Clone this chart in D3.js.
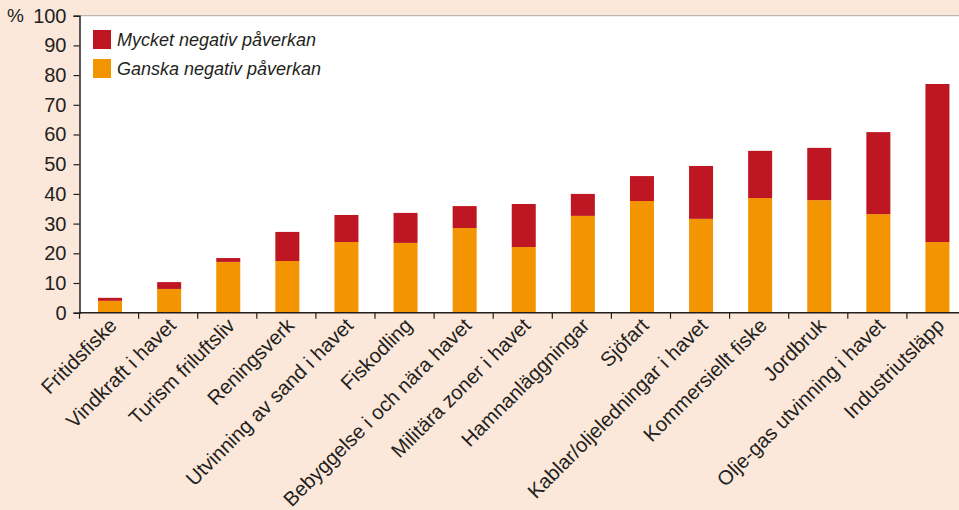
<!DOCTYPE html>
<html>
  <head>
    <style>
      body { margin: 0; background: #fce8da; }
      svg { display: block; font-family: "Liberation Sans", Arial, Helvetica, sans-serif; }
    </style>
  </head>

  <body>

    <svg class="surface" width="959" height="510"></svg>

    <script src="https://cdnjs.cloudflare.com/ajax/libs/d3/7.8.5/d3.min.js" charset="utf-8"></script>
    <script>

      const categories = ['Fritidsfiske', 'Vindkraft i havet', 'Turism friluftsliv', 'Reningsverk',
        'Utvinning av sand i havet', 'Fiskodling', 'Bebyggelse i och nära havet', 'Militära zoner i havet',
        'Hamnanläggningar', 'Sjöfart', 'Kablar/oljeledningar i havet', 'Kommersiellt fiske',
        'Jordbruk', 'Olje-gas utvinning i havet', 'Industriutsläpp']
      const ganska = [4, 8, 17.1, 17.4, 23.8, 23.5, 28.5, 22.1, 32.6, 37.6, 31.6, 38.6, 37.9, 33.2, 23.8]
      const mycket = [1, 2.3, 1.3, 9.8, 9.1, 10.1, 7.4, 14.5, 7.4, 8.4, 17.8, 15.9, 17.6, 27.6, 53.2]
      const yTicks = [0, 10, 20, 30, 40, 50, 60, 70, 80, 90, 100]
      const legendLabels = ['Mycket negativ påverkan', 'Ganska negativ påverkan']

      const red = '#be1622'
      const orange = '#f39500'
      const ink = '#231f20'

      const surface = d3.select('.surface')

      const plotLeft = 79.5, plotTop = 15.7, plotBottom = 312.7
      const x = d3.scaleBand().domain(categories).range([plotLeft, plotLeft + 15 * 59.1])
      const y = d3.scaleLinear().domain([0, 100]).range([plotBottom, plotTop])
      const barW = 24

      // white plot area
      surface.append('rect')
        .attr('x', plotLeft).attr('y', plotTop)
        .attr('width', 959 - plotLeft).attr('height', plotBottom - plotTop)
        .attr('fill', '#fff')
      surface.append('line')
        .attr('x1', plotLeft).attr('x2', 959).attr('y1', plotTop).attr('y2', plotTop)
        .attr('stroke', '#9a9490').attr('stroke-width', 0.8)

      const rows = categories.map((c, i) => ({ c, g: ganska[i], m: mycket[i] }))
      const bx = d => x(d.c) + (x.bandwidth() - barW) / 2 + 1

      surface.selectAll('rect.g').data(rows).enter()
        .append('rect').attr('class', 'g')
          .attr('x', bx).attr('width', barW)
          .attr('y', d => y(d.g)).attr('height', d => y(0) - y(d.g))
          .attr('fill', orange)

      surface.selectAll('rect.m').data(rows).enter()
        .append('rect').attr('class', 'm')
          .attr('x', bx).attr('width', barW)
          .attr('y', d => y(d.g + d.m)).attr('height', d => y(d.g) - y(d.g + d.m))
          .attr('fill', red)

      // y axis
      const yAxis = surface.append('g')
        .attr('transform', `translate(${plotLeft},0)`)
        .call(d3.axisLeft(y).tickValues(yTicks).tickSize(6).tickPadding(7))
      yAxis.select('.domain').attr('stroke', ink).attr('stroke-width', 1.5)
      yAxis.selectAll('.tick line').attr('stroke', ink).attr('stroke-width', 1.2)
      yAxis.selectAll('.tick text')
        .attr('font-size', 20).attr('fill', ink)
      yAxis.attr('font-family', null)

      surface.append('text')
        .attr('x', 7).attr('y', y(100)).attr('dy', '0.32em')
        .attr('font-size', 19).attr('fill', ink)
        .text('%')

      // x axis
      surface.append('line')
        .attr('x1', plotLeft).attr('x2', 959).attr('y1', plotBottom).attr('y2', plotBottom)
        .attr('stroke', ink).attr('stroke-width', 1.5)

      surface.selectAll('line.xt').data(categories.concat(['end'])).enter()
        .append('line').attr('class', 'xt')
          .attr('x1', d => d === 'end' ? x.range()[1] : x(d))
          .attr('x2', d => d === 'end' ? x.range()[1] : x(d))
          .attr('y1', plotBottom).attr('y2', plotBottom + 6)
          .attr('stroke', ink).attr('stroke-width', 1.2)

      surface.selectAll('text.xl').data(categories).enter()
        .append('text').attr('class', 'xl')
          .attr('transform', d => `translate(${x(d) + x.bandwidth() / 2 + 9},${plotBottom + 14}) rotate(-45)`)
          .attr('text-anchor', 'end')
          .attr('font-size', 20.3).attr('fill', ink)
          .text(d => d)

      // legend
      const legend = surface.selectAll('g.leg').data(legendLabels).enter()
        .append('g').attr('class', 'leg')
          .attr('transform', (d, i) => `translate(93,${30 + i * 29})`)
      legend.append('rect')
        .attr('width', 18).attr('height', 19)
        .attr('fill', (d, i) => i === 0 ? red : orange)
      legend.append('text')
        .attr('x', 24).attr('y', 16)
        .attr('font-size', 18).attr('font-style', 'italic').attr('fill', ink)
        .text(d => d)

    </script>
  </body>

</html>
